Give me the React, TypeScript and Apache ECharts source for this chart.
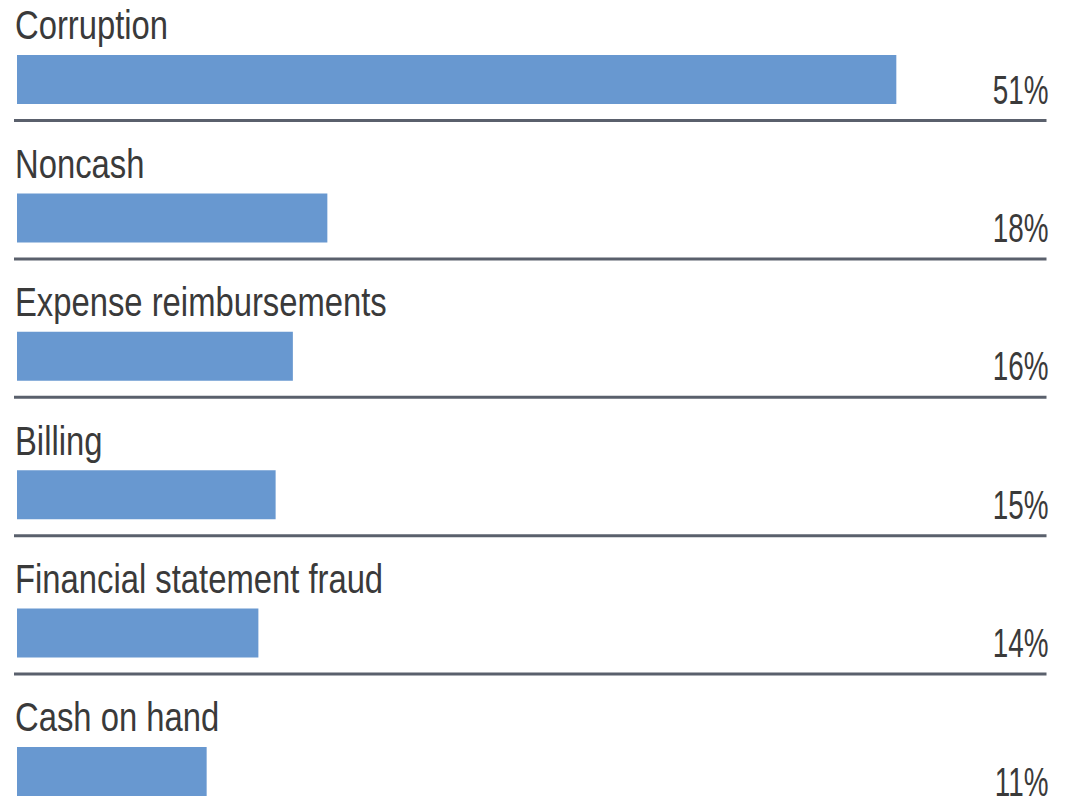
import React, { useEffect, useRef } from "react";
import * as echarts from "echarts";

const categories = [
  "Corruption",
  "Noncash",
  "Expense reimbursements",
  "Billing",
  "Financial statement fraud",
  "Cash on hand",
];
const values = [51, 18, 16, 15, 14, 11];
const X_MAX = 60;

const FONT = "'Liberation Sans', Arial, sans-serif";
const TEXT_COLOR = "#3a3a3a";
const BAR_COLOR = "#6898d0";
const LINE_COLOR = "#5a606c";

export default function App() {
  const ref = useRef<HTMLDivElement>(null);
  useEffect(() => {
    if (!ref.current) return;
    const chart = echarts.init(ref.current, undefined, { renderer: "svg" });
    chart.setOption({
      animation: false,
      grid: { left: 17, right: 18.5, top: 10.3, bottom: 19.3, containLabel: false },
      xAxis: { type: "value", min: 0, max: X_MAX, show: false },
      yAxis: { type: "category", data: categories, inverse: true, show: false },
      series: [
        {
          type: "bar",
          data: values,
          barWidth: 49,
          itemStyle: { color: BAR_COLOR },
        },
        {
          type: "custom",
          data: values.map((v, i) => [v, i]),
          encode: { x: 0, y: 1 },
          renderItem: (params: any, api: any) => {
            const idx = api.value(1);
            const v = api.value(0);
            const left = api.coord([0, idx]);
            const right = api.coord([X_MAX, idx]);
            const children: any[] = [];
            if (idx < categories.length - 1) {
              children.push({
                type: "line",
                shape: { x1: left[0] - 3, y1: left[1] + 41, x2: right[0] - 5, y2: left[1] + 41 },
                style: { stroke: LINE_COLOR, lineWidth: 3 },
              });
            }
            children.push({
              type: "text",
              x: left[0] - 2,
              y: left[1] - 54.5,
              scaleX: 0.8,
              style: {
                text: categories[idx],
                align: "left",
                verticalAlign: "middle",
                fontFamily: FONT,
                fontSize: 41,
                fill: TEXT_COLOR,
              },
            });
            children.push({
              type: "text",
              x: right[0] - 3,
              y: right[1] + 9.5,
              scaleX: 0.68,
              style: {
                text: v + "%",
                align: "right",
                verticalAlign: "middle",
                fontFamily: FONT,
                fontSize: 41,
                fill: TEXT_COLOR,
              },
            });
            return { type: "group", children };
          },
        },
      ],
    });
    return () => chart.dispose();
  }, []);
  return (
    <div style={{ position: "absolute", left: 0, top: 0, width: 1070, height: 812, overflow: "hidden", background: "#fff" }}>
      <div ref={ref} style={{ width: 1070, height: 860 }} />
    </div>
  );
}
